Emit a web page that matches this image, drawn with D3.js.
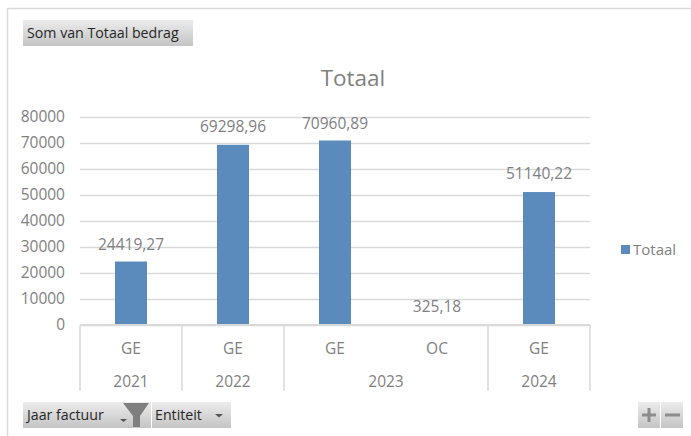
<!DOCTYPE html>
<html>
<head>
<meta charset="utf-8">
<script src="https://cdn.jsdelivr.net/npm/d3@7"></script>
<style>
    html, body { margin: 0; padding: 0; background: #fff; }
    svg { display: block; }
    text { font-family: "Open Sans", sans-serif; }
</style>
</head>
<body>
<div id="chart"></div>
<script>
const entities = ["GE", "GE", "GE", "OC", "GE"];
const years = ["2021", "2022", "2023", "2023", "2024"];
const values = [24419.27, 69298.96, 70960.89, 325.18, 51140.22];
const valueLabels = ["24419,27", "69298,96", "70960,89", "325,18", "51140,22"];
const yTicks = [0, 10000, 20000, 30000, 40000, 50000, 60000, 70000, 80000];
const labelOffsets = [-12, -13, -12, -12, -13]; // excel places the labels a bit unevenly

const width = 691;
const height = 436;
const margin = { top: 117, right: 101, bottom: 111, left: 80 };

const textGrey = "#7f7f7f";
const lineGrey = "#d9d9d9";
const barBlue = "#5b8bbd";
const labelSize = "15.5px";

const svg = d3.select("#chart")
    .append("svg")
    .attr("width", width)
    .attr("height", height);

// outer frame, only top and left are in view
svg.append("path")
    .attr("d", `M7.5,${height} V8.5 H${width}`)
    .attr("fill", "none")
    .attr("stroke", lineGrey)
    .attr("stroke-width", 1.5);

const x = d3.scaleBand()
    .domain(d3.range(values.length))
    .range([margin.left, width - margin.right])
    .paddingInner(0)
    .paddingOuter(0);

const y = d3.scaleLinear()
    .domain([0, 80000])
    .range([height - margin.bottom, margin.top]);

// gridlines + y labels
svg.append("g")
    .attr("transform", `translate(${margin.left}, 0)`)
    .call(d3.axisLeft(y).tickValues(yTicks).tickSize(-(width - margin.left - margin.right)).tickPadding(15).tickFormat(d3.format("d")))
    .call(g => g.select(".domain").remove())
    .call(g => g.selectAll(".tick line").attr("stroke", lineGrey).attr("stroke-width", 1.5))
    .call(g => g.selectAll(".tick text").attr("fill", textGrey).style("font-size", labelSize));

// bars
svg.selectAll("rect.bar")
    .data(values)
    .enter()
    .append("rect")
    .attr("class", "bar")
    .attr("x", (d, i) => x(i) + x.bandwidth() / 2 - 16)
    .attr("y", d => y(d))
    .attr("width", 32)
    .attr("height", d => y(0) - y(d))
    .attr("fill", barBlue);

// baseline sits on top of the bars, hides the tiny OC bar
svg.append("line")
    .attr("x1", margin.left)
    .attr("x2", width - margin.right)
    .attr("y1", y(0))
    .attr("y2", y(0))
    .attr("stroke", lineGrey)
    .attr("stroke-width", 2);

// data labels
svg.selectAll("text.val")
    .data(values)
    .enter()
    .append("text")
    .attr("class", "val")
    .attr("x", (d, i) => x(i) + x.bandwidth() / 2)
    .attr("y", (d, i) => y(d) + labelOffsets[i])
    .attr("text-anchor", "middle")
    .attr("fill", textGrey)
    .style("font-size", labelSize)
    .text((d, i) => valueLabels[i]);

// multi level category axis
const axisBottom = y(0);
const axisEnd = 391;
const yearGroups = d3.groups(d3.range(years.length), i => years[i]);

const sepPositions = [margin.left].concat(yearGroups.map(g => x(g[1][g[1].length - 1]) + x.bandwidth()));
svg.selectAll("line.sep")
    .data(sepPositions)
    .enter()
    .append("line")
    .attr("class", "sep")
    .attr("x1", d => d)
    .attr("x2", d => d)
    .attr("y1", axisBottom)
    .attr("y2", axisEnd)
    .attr("stroke", lineGrey)
    .attr("stroke-width", 1.5);

svg.selectAll("text.entity")
    .data(entities)
    .enter()
    .append("text")
    .attr("class", "entity")
    .attr("x", (d, i) => x(i) + x.bandwidth() / 2)
    .attr("y", 354)
    .attr("text-anchor", "middle")
    .attr("fill", textGrey)
    .style("font-size", labelSize)
    .text(d => d);

svg.selectAll("text.year")
    .data(yearGroups)
    .enter()
    .append("text")
    .attr("class", "year")
    .attr("x", d => (x(d[1][0]) + x(d[1][d[1].length - 1]) + x.bandwidth()) / 2)
    .attr("y", 387)
    .attr("text-anchor", "middle")
    .attr("fill", textGrey)
    .style("font-size", labelSize)
    .text(d => d[0]);

// title
svg.append("text")
    .attr("x", 353)
    .attr("y", 86)
    .attr("text-anchor", "middle")
    .attr("fill", textGrey)
    .style("font-size", "22.5px")
    .text("Totaal");

// legend
svg.append("rect")
    .attr("x", 621)
    .attr("y", 245)
    .attr("width", 9)
    .attr("height", 9)
    .attr("fill", barBlue);
svg.append("text")
    .attr("x", 633)
    .attr("y", 255)
    .attr("fill", textGrey)
    .style("font-size", "15px")
    .text("Totaal");

// pivot field buttons
const defs = svg.append("defs");
const grad = defs.append("linearGradient")
    .attr("id", "btn")
    .attr("x1", 0).attr("x2", 0).attr("y1", 0).attr("y2", 1);
grad.append("stop").attr("offset", "0%").attr("stop-color", "#ececec");
grad.append("stop").attr("offset", "100%").attr("stop-color", "#c4c4c4");

function button(bx, by, w, h) {
    svg.append("rect")
        .attr("x", bx).attr("y", by)
        .attr("width", w).attr("height", h)
        .attr("fill", "url(#btn)");
}

button(23, 20, 170, 26);
button(23, 402, 128, 26);
button(152, 402, 79, 26);
button(638, 402, 22, 26);
button(661, 402, 22, 26);

const buttonText = [
    { t: "Som van Totaal bedrag", x: 27, y: 38 },
    { t: "Jaar factuur", x: 27, y: 420 },
    { t: "Entiteit", x: 155, y: 420 }
];
svg.selectAll("text.btn")
    .data(buttonText)
    .enter()
    .append("text")
    .attr("class", "btn")
    .attr("x", d => d.x)
    .attr("y", d => d.y)
    .attr("fill", "#262626")
    .style("font-size", "14.2px")
    .text(d => d.t);

// dropdown arrows
svg.append("path").attr("d", "M120,419 h7 l-3.5,3 z").attr("fill", "#555");
svg.append("path").attr("d", "M215,414 h8 l-4,3.5 z").attr("fill", "#555");

// filter icon
svg.append("path")
    .attr("d", "M123,403 H149 L140,416 V427 H133 V416 Z")
    .attr("fill", "#7f7f7f");

// plus and minus
svg.append("path")
    .attr("d", "M649,408 V422 M642,415 H656")
    .attr("stroke", "#8c8c8c").attr("stroke-width", 3);
svg.append("path")
    .attr("d", "M665,415 H680")
    .attr("stroke", "#8c8c8c").attr("stroke-width", 3);
</script>
</body>
</html>
